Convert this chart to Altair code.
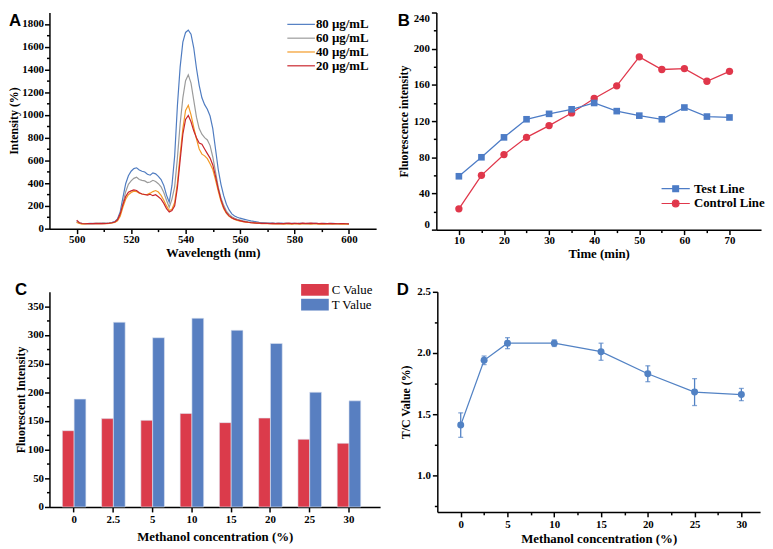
import altair as alt
import pandas as pd

# ---------------- Panel A: emission spectra ----------------
wavelength = list(range(500, 601))
int_80 = [62, 50, 46, 44, 45, 46, 44, 46, 47, 46,
          48, 47, 50, 55, 62, 85, 150, 275, 395, 465,
          505, 528, 535, 515, 505, 498, 478, 470, 490, 482,
          460, 432, 380, 295, 232, 380, 640, 1080, 1420, 1640,
          1725, 1745, 1710, 1590, 1410, 1260, 1150, 1090, 1050, 990,
          880, 700, 520, 390, 290, 215, 165, 130, 112, 100,
          92, 86, 80, 74, 68, 64, 60, 56, 54, 52,
          50, 48, 49, 47, 46, 48, 47, 46, 45, 47,
          46, 45, 47, 46, 44, 46, 45, 47, 46, 45,
          44, 46, 45, 44, 46, 45, 44, 45, 44, 43, 42]
int_60 = [58, 48, 45, 44, 45, 44, 46, 45, 46, 45,
          47, 46, 48, 52, 58, 75, 130, 225, 325, 390,
          420, 442, 452, 432, 425, 420, 405, 410, 425, 415,
          395, 368, 318, 250, 188, 260, 370, 620, 920, 1150,
          1300, 1352, 1280, 1130, 980, 880, 830, 800, 780, 730,
          630, 500, 365, 270, 205, 155, 125, 105, 92, 82,
          76, 70, 65, 61, 58, 55, 52, 50, 49, 48,
          47, 46, 47, 45, 46, 45, 44, 46, 45, 44,
          45, 44, 46, 45, 44, 45, 46, 44, 45, 44,
          43, 45, 44, 43, 45, 44, 43, 44, 43, 42, 41]
int_40 = [55, 45, 40, 42, 44, 43, 45, 44, 46, 44,
          46, 45, 47, 50, 55, 68, 110, 190, 258, 298,
          318, 330, 326, 312, 305, 300, 302, 312, 326, 335,
          322, 292, 250, 200, 160, 170, 230, 400, 650, 880,
          1040, 1085, 1000, 890, 790, 700, 655, 640, 615, 570,
          520, 430, 330, 240, 175, 135, 108, 92, 80, 72,
          66, 62, 58, 55, 52, 50, 48, 46, 45, 44,
          43, 44, 42, 41, 43, 42, 40, 41, 42, 40,
          41, 42, 40, 41, 43, 41, 40, 42, 41, 40,
          41, 40, 42, 41, 40, 41, 42, 40, 41, 40, 39]
int_20 = [75, 52, 45, 43, 44, 45, 44, 46, 45, 46,
          45, 46, 48, 52, 58, 78, 130, 212, 282, 320,
          332, 340, 336, 316, 305, 300, 295, 302, 290, 298,
          280, 260, 222, 176, 146, 160, 200, 360, 600, 830,
          960, 995, 940, 860, 800, 752, 742, 700, 660, 620,
          560, 460, 350, 255, 185, 140, 112, 96, 84, 76,
          70, 64, 60, 56, 53, 51, 49, 48, 47, 46,
          47, 45, 46, 44, 46, 45, 44, 46, 48, 45,
          46, 47, 45, 48, 46, 47, 49, 46, 47, 45,
          46, 44, 45, 46, 44, 45, 43, 44, 45, 43, 42]
conc_labels = ["80 µg/mL", "60 µg/mL", "40 µg/mL", "20 µg/mL"]
conc_colors = ["#4f7cc1", "#9b9b9b", "#f39a26", "#c9252c"]

# ---------------- Panel B: time course ----------------
time_min = [10, 15, 20, 25, 30, 35, 40, 45, 50, 55, 60, 65, 70]
test_line = [59, 80, 102, 122, 128, 133, 140, 131, 126, 122, 135, 125, 124]
control_line = [23, 60, 83, 102, 115, 129, 145, 159, 191, 177, 178, 164, 175]
line_names = ["Test Line", "Control Line"]
BLUE_B = "#4d7cc6"
RED_B = "#e0374b"

# ---------------- Panel C: methanol bars ----------------
methanol_labels = ["0", "2.5", "5", "10", "15", "20", "25", "30"]
c_value = [133, 154, 151, 163, 147, 155, 118, 111]
t_value = [188, 322, 295, 329, 308, 285, 200, 185]
bar_names = ["C Value", "T Value"]
bar_colors = ["#db3b4b", "#587fc1"]

# ---------------- Panel D: T/C ratio ----------------
methanol_num = [0, 2.5, 5, 10, 15, 20, 25, 30]
tc_value = [1.41, 1.94, 2.08, 2.08, 2.01, 1.83, 1.68, 1.66]
tc_err = [0.10, 0.035, 0.045, 0.027, 0.07, 0.065, 0.11, 0.05]
BLUE_D = "#5282c4"

SERIF = "Liberation Serif"
SANS = "Liberation Sans"


def make_axis(title, values, major, title_size=12, **kw):
    return alt.Axis(
        title=title, values=values, grid=False,
        labelExpr=f"({major}) ? datum.label : ''",
        tickSize={"condition": {"test": f"!({major})", "value": 3}, "value": 5},
        domainColor="black", domainWidth=1.5, tickColor="black", tickWidth=1.5,
        labelFont=SERIF, labelFontWeight="bold", labelFontSize=11, labelColor="black",
        titleFont=SERIF, titleFontWeight="bold", titleFontSize=title_size, titleColor="black",
        labelOverlap=False, **kw)


def letter(ch, dx, dy):
    return alt.Chart(pd.DataFrame({"t": [ch]})).mark_text(
        align="left", baseline="top", font=SANS, fontWeight="bold", fontSize=17, color="black"
    ).encode(text="t:N", x=alt.value(dx), y=alt.value(dy))


# ---------- A ----------
rows = []
for lab, vals in zip(conc_labels, [int_80, int_60, int_40, int_20]):
    for w, v in zip(wavelength, vals):
        rows.append({"wl": w, "val": v, "series": lab})
dfA = pd.DataFrame(rows)

lineA = alt.Chart(dfA).mark_line(strokeWidth=1.2).encode(
    x=alt.X("wl:Q", scale=alt.Scale(domain=[490, 610], nice=False, zero=False),
            axis=make_axis("Wavelength (nm)", list(range(500, 601, 10)), "datum.value % 20 == 0", 13,
                           labelPadding=0, titlePadding=2)),
    y=alt.Y("val:Q", scale=alt.Scale(domain=[0, 1900], nice=False),
            axis=make_axis("Intensity (%)", list(range(0, 1801, 100)), "datum.value % 200 == 0", 12,
                           format="d", labelPadding=1, titlePadding=1)),
    color=alt.Color("series:N", sort=conc_labels,
                    scale=alt.Scale(domain=conc_labels, range=conc_colors),
                    legend=alt.Legend(title=None, orient="none", legendX=248, legendY=5,
                                      symbolType="M-2.33,0H2.33", symbolSize=144, symbolStrokeWidth=1.2,
                                      labelOffset=8, labelFont=SERIF, labelFontSize=13,
                                      labelFontWeight="bold", labelColor="black",
                                      rowPadding=-1, padding=0)),
)
chartA = alt.layer(lineA, letter("A", -41, 1)).properties(width=331, height=219)

# ---------- B ----------
xB = alt.X("t:Q", scale=alt.Scale(domain=[5, 77], nice=False, zero=False),
           axis=make_axis("Time (min)", list(range(10, 71, 5)), "datum.value % 10 == 0", 13,
                          labelPadding=0, titlePadding=2))
yB = alt.Y("v:Q", scale=alt.Scale(domain=[0, 240], nice=False),
           axis=make_axis("Fluorescence intensity", list(range(0, 241, 20)), "datum.value % 40 == 0", 12,
                          labelFlush=True, titlePadding=3))
dfB_test = pd.DataFrame({"t": time_min, "v": test_line})
dfB_ctrl = pd.DataFrame({"t": time_min, "v": control_line})

lineB_test = alt.Chart(dfB_test).mark_line(color=BLUE_B, strokeWidth=1.3).encode(x=xB, y=yB)
lineB_ctrl = alt.Chart(dfB_ctrl).mark_line(color=RED_B, strokeWidth=1.3).encode(x=xB, y=yB)
ptB_test = alt.Chart(dfB_test).mark_square(color=BLUE_B, size=45, opacity=1).encode(x=xB, y=yB)
ptB_ctrl = alt.Chart(dfB_ctrl).mark_circle(color=RED_B, size=55, opacity=1).encode(x=xB, y=yB)

SQ = "M-2.2,0H2.2M-0.45,-0.45H0.45V0.45H-0.45Z"
CI = "M0.52,0A0.52,0.52 0 1,1 -0.52,0A0.52,0.52 0 1,1 0.52,0Z M-2.2,0H2.2"
legB_props = alt.Legend(title=None, orient="none", legendX=235, legendY=171,
                        symbolSize=169, symbolStrokeWidth=1.2, labelOffset=11,
                        labelFont=SERIF, labelFontSize=13, labelFontWeight="bold",
                        labelColor="black", rowPadding=-1, padding=0)
dfB_leg = pd.DataFrame({"t": time_min[:2], "v": test_line[:2], "series": line_names})
legB = alt.Chart(dfB_leg).transform_filter("false").mark_point(opacity=1, strokeWidth=1.2).encode(
    x=xB, y=yB,
    fill=alt.Fill("series:N", scale=alt.Scale(domain=line_names, range=[BLUE_B, RED_B]), legend=legB_props),
    stroke=alt.Stroke("series:N", scale=alt.Scale(domain=line_names, range=[BLUE_B, RED_B]), legend=legB_props),
    shape=alt.Shape("series:N", scale=alt.Scale(domain=line_names, range=[SQ, CI]), legend=legB_props),
)
chartB = alt.layer(lineB_ctrl, lineB_test, ptB_ctrl, ptB_test, legB, letter("B", -39, 1)).properties(
    width=329, height=220)

# ---------- C ----------
rowsC = []
for m, c, t in zip(methanol_labels, c_value, t_value):
    rowsC.append({"m": m, "v": c, "series": "C Value"})
    rowsC.append({"m": m, "v": t, "series": "T Value"})
dfC = pd.DataFrame(rowsC)
barsC = alt.Chart(dfC).mark_bar(stroke="#dfe6f2", strokeWidth=0.6).encode(
    x=alt.X("m:N", sort=methanol_labels,
            scale=alt.Scale(paddingInner=0.4, paddingOuter=0.41, align=0.4),
            axis=alt.Axis(title="Methanol concentration (%)", labelAngle=0, grid=False,
                          domainColor="black", domainWidth=1.5, tickColor="black", tickWidth=1.5,
                          tickSize=5, labelPadding=2, titlePadding=6,
                          labelFont=SERIF, labelFontWeight="bold", labelFontSize=11, labelColor="black",
                          titleFont=SERIF, titleFontWeight="bold", titleFontSize=13, titleColor="black")),
    xOffset=alt.XOffset("series:N", sort=bar_names),
    y=alt.Y("v:Q", scale=alt.Scale(domain=[0, 375], nice=False),
            axis=make_axis("Fluorescent Intensity", list(range(0, 351, 25)), "datum.value % 50 == 0", 12,
                           labelPadding=1, titlePadding=0)),
    color=alt.Color("series:N", scale=alt.Scale(domain=bar_names, range=bar_colors),
                    legend=alt.Legend(title=None, orient="none", legendX=262, legendY=-9,
                                      symbolType="M-2,-0.85H2V0.85H-2Z", symbolSize=196,
                                      symbolStrokeWidth=0, labelOffset=10, labelFont=SERIF,
                                      labelFontSize=13, labelColor="black",
                                      rowPadding=1, padding=0)),
)
chartC = alt.layer(barsC, letter("C", -35, -10)).properties(width=335, height=218)

# ---------- D ----------
dfD = pd.DataFrame({"m": methanol_num, "v": tc_value,
                    "lo": [v - e for v, e in zip(tc_value, tc_err)],
                    "hi": [v + e for v, e in zip(tc_value, tc_err)]})
xD = alt.X("m:Q", scale=alt.Scale(domain=[-2.5, 32], nice=False, zero=False),
           axis=make_axis("Methanol concentration (%)", [0, 2.5, 5, 7.5, 10, 12.5, 15, 17.5, 20, 22.5, 25, 27.5, 30],
                          "datum.value % 5 == 0", 13, labelPadding=2, titlePadding=3))
yD_axis = make_axis("T/C Value (%)", [0.75, 1.0, 1.25, 1.5, 1.75, 2.0, 2.25, 2.5],
                    "datum.value % 0.5 == 0", 12, format=".1f")
yD = alt.Y("v:Q", scale=alt.Scale(domain=[0.7, 2.5], nice=False, zero=False), axis=yD_axis)
lineD = alt.Chart(dfD).mark_line(color=BLUE_D, strokeWidth=1.3).encode(x=xD, y=yD)
errD = alt.Chart(dfD).mark_errorbar(ticks=True, color=BLUE_D, thickness=1.3).encode(
    x=xD,
    y=alt.Y("lo:Q", scale=alt.Scale(domain=[0.7, 2.5], nice=False, zero=False), axis=yD_axis),
    y2="hi:Q")
ptD = alt.Chart(dfD).mark_circle(color=BLUE_D, size=50, opacity=1).encode(x=xD, y=yD)
chartD = alt.layer(lineD, errD, ptD, letter("D", -41, -10)).properties(width=327, height=223)

IND = dict(color="independent", fill="independent", stroke="independent", shape="independent",
           x="independent", y="independent")
INDL = dict(color="independent", fill="independent", stroke="independent", shape="independent")

chart = (alt.concat(chartA, chartB, chartC, chartD, columns=2,
                    spacing={"row": 21, "column": 17},
                    align={"row": "each", "column": "none"})
         .resolve_scale(**IND).resolve_legend(**INDL)
         .configure_view(stroke=None)
         .properties(padding=0, background="white"))

chart.save("out.html", embed_options={"renderer": "svg", "actions": False})
